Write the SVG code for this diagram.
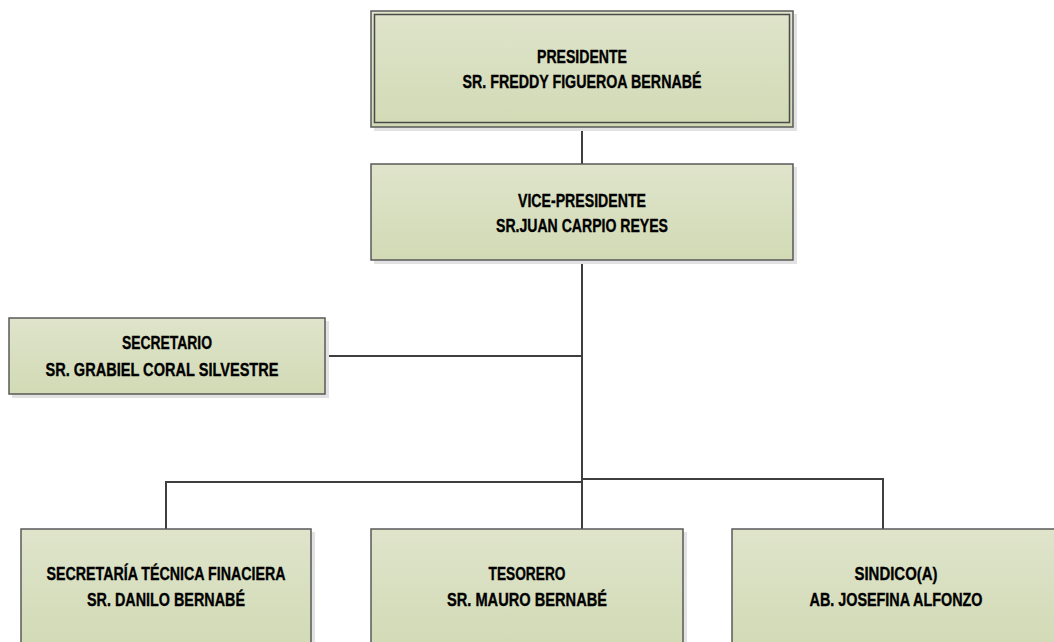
<svg xmlns="http://www.w3.org/2000/svg" width="1054" height="642" viewBox="0 0 1054 642">
<defs>
<linearGradient id="g" x1="0" y1="0" x2="0" y2="1">
<stop offset="0" stop-color="#dfe4cb"/>
<stop offset="1" stop-color="#d2dab5"/>
</linearGradient>
</defs>
<style>
.box{fill:url(#g);stroke:#595959;stroke-width:1.5}
.shadow{fill:#e2e2e2}
.inner{fill:none;stroke:#4a4a4a;stroke-width:1.5}
.t{font-family:"Liberation Sans",Arial,sans-serif;font-weight:bold;font-size:18.5px;fill:#000;stroke:#000;stroke-width:0.35;text-anchor:middle}
.c{fill:none;stroke:#3f3f3f;stroke-width:2}
</style>
<rect width="1054" height="642" fill="#fff"/>
<g id="connectors">
<line class="c" x1="582" y1="127" x2="582" y2="164"/>
<line class="c" x1="582" y1="260" x2="582" y2="529"/>
<line class="c" x1="325" y1="356" x2="582" y2="356"/>
<polyline class="c" points="166,529 166,482 582,482"/>
<polyline class="c" points="582,479 883,479 883,529"/>
</g>
<g id="presidente">
<rect class="shadow" x="374" y="14" width="423" height="117"/>
<rect class="box" x="371" y="11" width="422" height="116"/>
<rect class="inner" x="374.5" y="14.5" width="415" height="108"/>
<text class="t" x="582" y="63" textLength="90" lengthAdjust="spacingAndGlyphs">PRESIDENTE</text>
<text class="t" x="582" y="88" textLength="239" lengthAdjust="spacingAndGlyphs">SR. FREDDY FIGUEROA BERNABÉ</text>
</g>
<g id="vicepresidente">
<rect class="shadow" x="374" y="167" width="423" height="97"/>
<rect class="box" x="371" y="164" width="422" height="96"/>
<text class="t" x="582" y="207" textLength="128" lengthAdjust="spacingAndGlyphs">VICE-PRESIDENTE</text>
<text class="t" x="582" y="232" textLength="172" lengthAdjust="spacingAndGlyphs">SR.JUAN CARPIO REYES</text>
</g>
<g id="secretario">
<rect class="shadow" x="12" y="321" width="317" height="77"/>
<rect class="box" x="9" y="318" width="316" height="76"/>
<text class="t" x="167" y="349" textLength="90" lengthAdjust="spacingAndGlyphs">SECRETARIO</text>
<text class="t" x="162" y="376" textLength="233" lengthAdjust="spacingAndGlyphs">SR. GRABIEL CORAL SILVESTRE</text>
</g>
<g id="secretaria-tecnica">
<rect class="shadow" x="24" y="532" width="291" height="120"/>
<rect class="box" x="21" y="529" width="290" height="120"/>
<text class="t" x="166" y="580" textLength="239" lengthAdjust="spacingAndGlyphs">SECRETARÍA TÉCNICA FINACIERA</text>
<text class="t" x="166" y="606" textLength="158" lengthAdjust="spacingAndGlyphs">SR. DANILO BERNABÉ</text>
</g>
<g id="tesorero">
<rect class="shadow" x="374" y="532" width="313" height="120"/>
<rect class="box" x="371" y="529" width="312" height="120"/>
<text class="t" x="527" y="580" textLength="77" lengthAdjust="spacingAndGlyphs">TESORERO</text>
<text class="t" x="527" y="606" textLength="160" lengthAdjust="spacingAndGlyphs">SR. MAURO BERNABÉ</text>
</g>
<g id="sindico">
<rect class="shadow" x="735" y="532" width="330" height="120"/>
<rect class="box" x="732" y="529" width="328" height="120"/>
<text class="t" x="896" y="580" textLength="83" lengthAdjust="spacingAndGlyphs">SINDICO(A)</text>
<text class="t" x="896" y="606" textLength="173" lengthAdjust="spacingAndGlyphs">AB. JOSEFINA ALFONZO</text>
</g>
</svg>
